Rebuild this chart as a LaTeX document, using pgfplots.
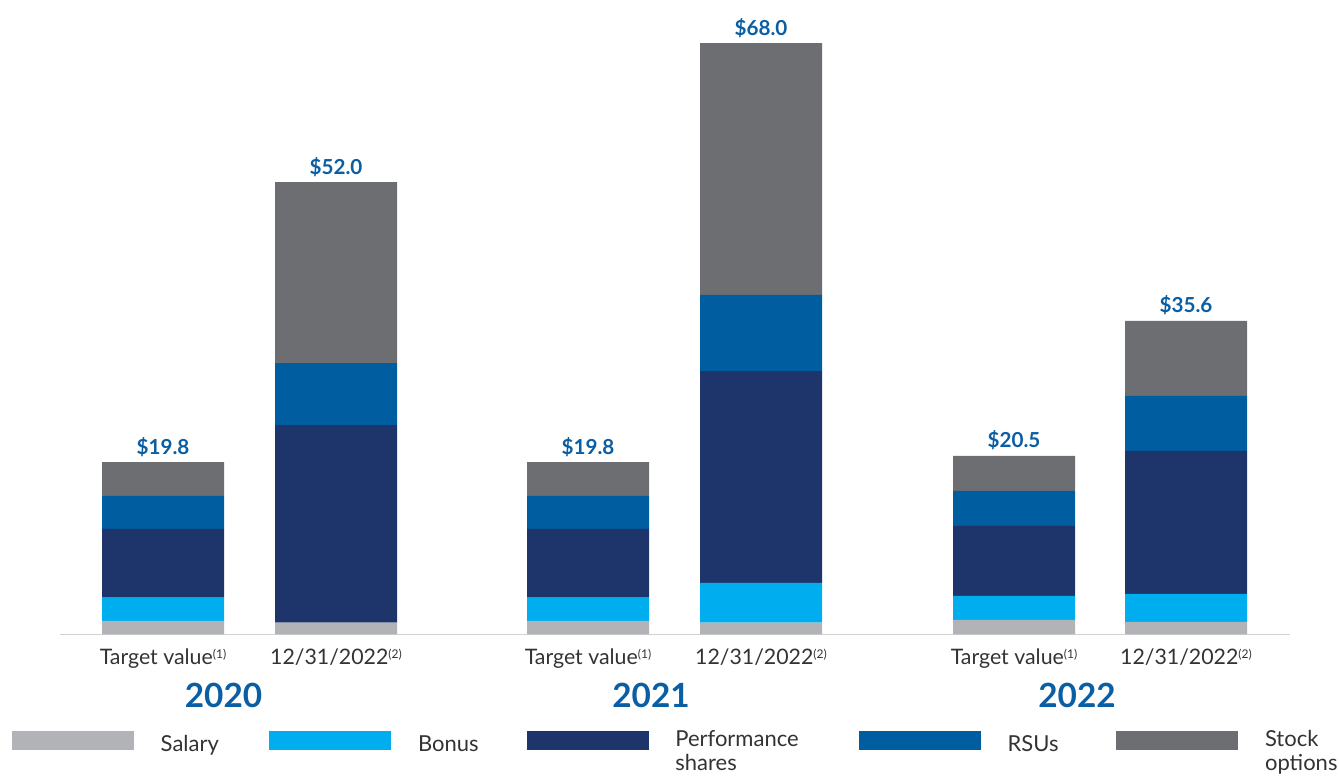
\documentclass[border=0pt]{standalone}
\usepackage{pgfplots}
\pgfplotsset{compat=1.18}
\usepackage{pgfplotstable}
\usepackage{fontspec}
\setmainfont{Lato}

\definecolor{cSalary}{HTML}{B2B3B6}
\definecolor{cBonus}{HTML}{00AEEF}
\definecolor{cPerf}{HTML}{1E356B}
\definecolor{cRSU}{HTML}{005DA0}
\definecolor{cStock}{HTML}{6D6E72}
\definecolor{cLabel}{HTML}{0A5EA4}
\definecolor{cText}{HTML}{333333}
\definecolor{cAxis}{HTML}{D2D2D2}

% x = pixel position of bar centre, values in $ millions
\pgfplotstableread{
x    salary bonus perf  rsu  stock total label
163  1.55   2.68  7.90  3.79 3.88  19.80 {\$19.8}
336  1.36   0     22.72 7.13 20.79 52.00 {\$52.0}
588  1.55   2.68  7.90  3.79 3.88  19.80 {\$19.8}
761  1.36   4.56  24.37 8.74 28.97 68.00 {\$68.0}
1014 1.67   2.76  8.05  4.02 4.02  20.52 {\$20.5}
1186 1.44   3.22  16.44 6.32 8.62  36.04 {\$35.6}
}\datatable

\newcommand{\sups}[1]{\raisebox{0.55ex}{\fontsize{9}{10}\selectfont #1}}
\newcommand{\oneline}[2]{\makebox[#1][l]{#2}}
\newcommand{\twoline}[3]{\makebox[#1][l]{\raisebox{3.75pt}[0pt][0pt]{\begin{tabular}[t]{@{}l@{}}#2\\[-2.5pt]#3\end{tabular}}}}

\pgfplotsset{
  frame/.style={
    at={(45pt,105.4pt)}, anchor=south west,
    scale only axis,
    width=922.5pt, height=443.6pt,
    xmin=60, xmax=1290, ymin=0, ymax=68,
    clip=false,
    bar width=122,
  }
}

\begin{document}
\begin{tikzpicture}
\begin{axis}[
    frame,
    ybar stacked,
    axis x line=bottom, axis y line=none,
    x axis line style={-, draw=cAxis, line width=1.2pt},
    major tick length=0pt,
    xtick={163,336,588,761,1014,1186},
    xticklabels={Target value\sups{(1)}, 12/31/2022\sups{(2)},
                 Target value\sups{(1)}, 12/31/2022\sups{(2)},
                 Target value\sups{(1)}, 12/31/2022\sups{(2)}},
    xticklabel style={anchor=base, yshift=-22.5pt, text=cText,
                      font=\fontsize{16}{19}\selectfont},
    extra x ticks={223.5,651,1077},
    extra x tick labels={2020,2021,2022},
    extra x tick style={xticklabel style={yshift=-31.9pt, text=cLabel,
                        font=\fontsize{25}{29}\selectfont\bfseries}},
    legend columns=5,
    legend image code/.code={\fill[#1] (0pt,1.5pt) rectangle (91.5pt,15.75pt);},
    legend style={at={(-0.039,-0.1631)}, anchor=north west,
        draw=none, fill=none, inner sep=0pt, outer sep=0pt, text=cText,
        font=\fontsize{16.5}{20}\selectfont,
        cells={anchor=base west, inner sep=0pt},
        /tikz/every odd column/.append style={column sep=18pt},
        /tikz/every even column/.append style={column sep=0pt}},
]
\addplot[fill=cSalary, draw=none] table[x=x, y=salary] {\datatable};
\addlegendentry{\oneline{79.5pt}{Salary}}
\addplot[fill=cBonus, draw=none] table[x=x, y=bonus] {\datatable};
\addlegendentry{\oneline{79.5pt}{Bonus}}
\addplot[fill=cPerf, draw=none] table[x=x, y=perf] {\datatable};
\addlegendentry{\twoline{135.75pt}{Performance}{shares}}
\addplot[fill=cRSU, draw=none] table[x=x, y=rsu] {\datatable};
\addlegendentry{\oneline{79.5pt}{RSUs}}
\addplot[fill=cStock, draw=none] table[x=x, y=stock] {\datatable};
\addlegendentry{\twoline{60pt}{Stock}{options}}
\end{axis}
% totals above the stacks
\begin{axis}[frame, ybar, hide axis]
\addplot[draw=none, fill=none,
    point meta=explicit symbolic,
    nodes near coords,
    nodes near coords style={anchor=base, yshift=6pt, text=cLabel,
        font=\fontsize{15.5}{18}\selectfont\bfseries}]
    table[x=x, y=total, meta=label] {\datatable};
\end{axis}
\pgfresetboundingbox
\path (0pt,0pt) rectangle (1004.25pt,581.25pt);
\end{tikzpicture}
\end{document}
